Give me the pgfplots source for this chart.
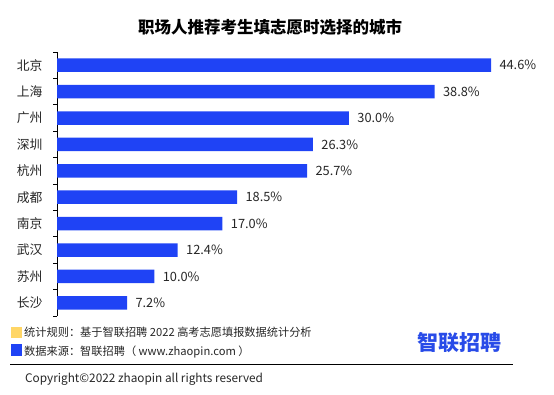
\documentclass[border=0pt]{standalone}
\usepackage{pgfplots}
\pgfplotsset{compat=1.18}
\usepackage{fontspec}
\setmainfont{Noto Sans CJK SC}
\definecolor{barblue}{RGB}{31,67,245}
\definecolor{noteyellow}{RGB}{255,214,102}
\definecolor{logoblue}{RGB}{40,75,232}
\pgfplotstableread{
idx val
0 44.6
1 38.8
2 30.0
3 26.3
4 25.7
5 18.5
6 17.0
7 12.4
8 10.0
9 7.2
}\citydata
\begin{document}
\begin{tikzpicture}[x=1bp,y=1bp]
\useasboundingbox (0,0) rectangle (554,394);
\begin{axis}[
  at={(57bp,78bp)}, anchor=south west,
  scale only axis, width=434bp, height=264bp,
  xmin=0, xmax=44.6, ymin=-0.5, ymax=9.5, y dir=reverse,
  xbar, bar width=13.5bp,
  axis x line=none, axis y line*=left,
  axis line style={black, line width=0.8pt, -},
  ytick={0,...,9},
  yticklabels={北京,上海,广州,深圳,杭州,成都,南京,武汉,苏州,长沙},
  major tick length=0pt,
  minor ytick={-0.5,0.5,...,9.5},
  minor tick length=4bp,
  tick align=outside,
  minor tick style={black, line width=0.8pt},
  yticklabel style={font=\fontsize{12.8bp}{14bp}\selectfont, text=black!85, xshift=-11bp},
  clip=false,
  point meta=x,
  nodes near coords={\pgfmathprintnumber[fixed,fixed zerofill,precision=1]{\pgfplotspointmeta}\%},
  nodes near coords style={font=\fontsize{12.8bp}{14bp}\selectfont, text=black!85, anchor=west, xshift=5bp},
  /pgf/number format/assume math mode=true,
]
\addplot[fill=barblue, draw=none] table[x=val, y=idx] {\citydata};
\end{axis}
\node[font=\bfseries\fontsize{16.5bp}{18bp}\selectfont] at (270,367) {职场人推荐考生填志愿时选择的城市};
\fill[noteyellow] (11,56) rectangle (22,67);
\node[anchor=west, font=\fontsize{11.2bp}{14bp}\selectfont, text=black!85, inner sep=0pt] at (24,62) {统计规则：基于智联招聘 2022 高考志愿填报数据统计分析};
\fill[barblue] (11,38) rectangle (22,50);
\node[anchor=west, font=\fontsize{11.2bp}{14bp}\selectfont, text=black!85, inner sep=0pt] at (24,42) {数据来源：智联招聘（ www.zhaopin.com ）};
\node[anchor=west, font=\bfseries\fontsize{21bp}{22bp}\selectfont, text=logoblue, inner sep=0pt] at (417,51) {智联招聘};
\draw[black, line width=0.8pt] (10,30) -- (513,30);
\node[anchor=west, font=\fontsize{11.8bp}{14bp}\selectfont, text=black!85, inner sep=0pt] at (25,15) {Copyright©2022 zhaopin all rights reserved};
\end{tikzpicture}
\end{document}
